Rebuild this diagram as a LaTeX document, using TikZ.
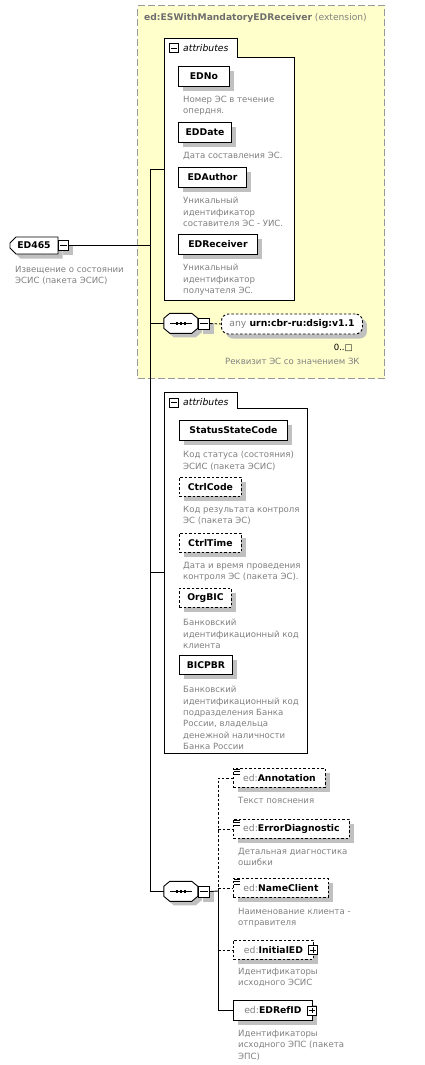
\documentclass[tikz,border=0pt]{standalone}
\usepackage{fontspec}
\setmainfont{DejaVu Sans}
\usetikzlibrary{shapes.misc,shadows,calc}
\definecolor{extfill}{HTML}{FFFFCC}
\definecolor{extline}{HTML}{999999}
\definecolor{desccol}{HTML}{808080}
\definecolor{shadecol}{HTML}{C0C0C0}
\definecolor{titlecol}{HTML}{6E6E6E}
\newcommand{\pfx}[1]{{\mdseries\color{desccol}#1}}
\tikzset{
  shd/.style={drop shadow={shadow xshift=4.5bp, shadow yshift=-4.5bp, fill=shadecol, opacity=1}},
  elem/.style={draw, fill=white, line width=0.9bp, shd, anchor=north west, minimum height=19bp, inner sep=0pt, font=\fontsize{9.3}{11}\selectfont\bfseries},
  optelem/.style={elem, dash pattern=on 2.5bp off 2bp},
  desc/.style={anchor=north west, align=left, text=desccol, inner sep=0pt, font=\fontsize{8.6}{11.4}\selectfont},
  attbox/.style={draw, fill=white, line width=0.9bp},
  attlabel/.style={anchor=west, inner sep=0pt, font=\fontsize{9.3}{11}\selectfont\itshape},
  pmbox/.style={draw, fill=white, line width=0.9bp, minimum size=10bp, inner sep=0pt},
  seqbox/.style={minimum width=34bp, minimum height=20bp, inner sep=0pt},
  octline/.style={draw, fill=white, line width=0.9bp},
  conn/.style={line width=0.9bp},
  optconn/.style={conn, dash pattern=on 2.5bp off 2bp},
}
\begin{document}
\begin{tikzpicture}[x=1bp,y=-1bp]
\useasboundingbox (0,0) rectangle (424,1065);
% extension
\node[draw=extline, fill=extfill, dash pattern=on 7bp off 3bp, line width=1bp, anchor=north west, minimum width=247bp, minimum height=373bp, inner sep=0pt] (ext) at (137,5) {};
\node[anchor=west, inner sep=0pt, font=\fontsize{9.2}{11}\selectfont, text=titlecol] (exttitle) at (144,18.5) {\textbf{ed:ESWithMandatoryEDReceiver} {\color{desccol}(extension)}};

% root
\node[chamfered rectangle, chamfered rectangle corners={north west,south west}, chamfered rectangle xsep=3bp, chamfered rectangle ysep=3bp, draw, fill=white, line width=0.9bp, shd, minimum width=48bp, minimum height=17bp, inner sep=0pt, font=\fontsize{9.3}{11}\selectfont\bfseries] (ed465) at (34,245.5) {ED465};
\node[pmbox, anchor=west, shd] (ed465m) at (ed465.east) {};
\node[desc] (ed465d) at (15,266) {Извещение о состоянии\\ЭСИС (пакета ЭСИС)};

% attributes 1
\node[anchor=north west, minimum width=130bp, minimum height=262bp, inner sep=0pt] (att1) at (164,38) {};
\draw[attbox] (att1.north west) -- ++(73,0) -- ++(0,19) -| (att1.south east) -| (att1.north west) -- cycle;
\node[pmbox, minimum size=9bp] (att1m) at (174,48) {};
\node[attlabel] (att1l) at (183,48) {attributes};

\node[elem, minimum width=51bp, minimum height=20bp] (edno) at (178,66) {EDNo};
\node[desc] (ednod) at (183,96) {Номер ЭС в течение\\опердня.};
\node[elem, minimum width=53bp, minimum height=20bp] (eddate) at (178,122) {EDDate};
\node[desc] (eddated) at (183,152) {Дата составления ЭС.};
\node[elem, minimum width=68bp, minimum height=20bp] (edauth) at (178,167) {EDAuthor};
\node[desc] (edauthd) at (183,197) {Уникальный\\идентификатор\\составителя ЭС - УИС.};
\node[elem, minimum width=79bp, minimum height=20bp] (edrec) at (178,234) {EDReceiver};
\node[desc] (edrecd) at (183,264) {Уникальный\\идентификатор\\получателя ЭС.};

% sequence 1 + any
\node[seqbox] (seq1) at (181,323.5) {};
\begin{scope}[shift={(seq1.north west)}]
  \fill[shadecol] (10,4) -- (32,4) -- (38,9) -- (38,19) -- (32,24) -- (10,24) -- (4,19) -- (4,9) -- cycle;
  \draw[octline] (6,0) -- (28,0) -- (34,5) -- (34,15) -- (28,20) -- (6,20) -- (0,15) -- (0,5) -- cycle;
\end{scope}
\node[pmbox, minimum size=11bp, anchor=west, shd] (seq1m) at (seq1.east) {};
\node[optelem, rounded corners=7bp, minimum width=141bp, minimum height=20bp, anchor=west] (any) at (221,324) {\pfx{any} urn:cbr-ru:dsig:v1.1\hspace{6bp}};
\node[anchor=base east, inner sep=0pt, font=\fontsize{8.6}{10}\selectfont] (anyocc) at (353,350) {0..□};
\node[desc] (anyd) at (225,358) {Реквизит ЭС со значением ЗК};

% attributes 2
\node[anchor=north west, minimum width=143bp, minimum height=361bp, inner sep=0pt] (att2) at (164,392) {};
\draw[attbox] (att2.north west) -- ++(73,0) -- ++(0,16.5) -| (att2.south east) -| (att2.north west) -- cycle;
\node[pmbox, minimum size=9bp] (att2m) at (174,402.5) {};
\node[attlabel] (att2l) at (183,402) {attributes};

\node[elem, minimum width=108bp, minimum height=20bp] (ssc) at (179,420) {StatusStateCode};
\node[desc] (sscd) at (183,451) {Код статуса (состояния)\\ЭСИС (пакета ЭСИС)};
\node[optelem, minimum width=62bp, minimum height=19bp] (ctrlc) at (179,477) {CtrlCode};
\node[desc] (ctrlcd) at (183,506) {Код результата контроля\\ЭС (пакета ЭС)};
\node[optelem, minimum width=62bp, minimum height=19bp] (ctrlt) at (179,533) {CtrlTime};
\node[desc] (ctrltd) at (183,562) {Дата и время проведения\\контроля ЭС (пакета ЭС).};
\node[optelem, minimum width=52bp, minimum height=19bp] (orgbic) at (179,588) {OrgBIC};
\node[desc] (orgbicd) at (183,619) {Банковский\\идентификационный код\\клиента};
\node[elem, minimum width=53bp, minimum height=19bp] (bicpbr) at (179,655) {BICPBR};
\node[desc] (bicpbrd) at (183,686) {Банковский\\идентификационный код\\подразделения Банка\\России, владельца\\денежной наличности\\Банка России};

% sequence 2
\node[seqbox] (seq2) at (181,891.5) {};
\begin{scope}[shift={(seq2.north west)}]
  \fill[shadecol] (10,4) -- (32,4) -- (38,9) -- (38,19) -- (32,24) -- (10,24) -- (4,19) -- (4,9) -- cycle;
  \draw[octline] (6,0) -- (28,0) -- (34,5) -- (34,15) -- (28,20) -- (6,20) -- (0,15) -- (0,5) -- cycle;
\end{scope}
\node[pmbox, minimum size=11bp, anchor=west, shd] (seq2m) at (seq2.east) {};
\coordinate (br) at (218,891);
\coordinate (trunk) at (150,600);

\node[optelem, minimum width=92bp] (annot) at (233,768) {\pfx{ed:}Annotation};
\node[desc] (annotd) at (238,797) {Текст пояснения};
\node[optelem, minimum width=116bp] (errd) at (233,819) {\pfx{ed:}ErrorDiagnostic};
\node[desc] (errdd) at (238,848) {Детальная диагностика\\ошибки};
\node[optelem, minimum width=95bp] (namec) at (233,878) {\pfx{ed:}NameClient};
\node[desc] (namecd) at (238,908) {Наименование клиента -\\отправителя};
\node[optelem, minimum width=80bp] (inited) at (233,940) {\pfx{ed:}InitialED\hspace{8bp}};
\node[pmbox, minimum size=9bp] (initedp) at ($(inited.east)+(-0.5,0)$) {};
\node[desc] (initedd) at (238,968) {Идентификаторы\\исходного ЭСИС};
\node[elem, minimum width=79bp, minimum height=20bp] (edref) at (233,1000) {\pfx{ed:}EDRefID\hspace{8bp}};
\node[pmbox, minimum size=9bp] (edrefp) at ($(edref.east)+(-0.5,0)$) {};
\node[desc] (edrefd) at (238,1030) {Идентификаторы\\исходного ЭПС (пакета\\ЭПС)};

% icons
\foreach \n in {ed465m,att1m,att2m,seq1m,seq2m,initedp,edrefp}
  \draw[line width=0.9bp] ($(\n.west)+(2,0)$) -- ($(\n.east)+(-2,0)$);
\foreach \n in {initedp,edrefp}
  \draw[line width=0.9bp] ($(\n.north)+(0,2)$) -- ($(\n.south)+(0,-2)$);
\foreach \n in {seq1,seq2}{
  \draw[line width=0.8bp] ($(\n.center)+(-11,0)$) -- ($(\n.center)+(11,0)$);
  \foreach \dx in {-4,0,4}
    \fill ($(\n.center)+(\dx-1.3,-1.3)$) rectangle ++(2.6,2.6);
}
\foreach \n in {annot,errd,namec}{
  \fill[white] ($(\n.north west)+(0.6,0.6)$) rectangle ++(7,6.5);
  \foreach \dy in {1.5,3.8,6.1}
    \draw[line width=0.7bp] ($(\n.north west)+(1.3,\dy)$) -- ++(6,0);
}

% connectors
\draw[conn] (ed465m.east) -- (ed465m.east -| trunk);
\draw[conn] (att1.west) -- (att1.west -| trunk) -- (seq2.west -| trunk) -- (seq2.west);
\draw[conn] (seq1.west -| trunk) -- (seq1.west);
\draw[conn] (att2.west -| trunk) -- (att2.west);
\draw[optconn] (seq1m.east) -- (any.west);
\draw[conn] (seq2m.east) -- (br);
\draw[optconn] (br) |- (annot.west);
\draw[optconn] (br |- errd.west) -- (errd.west);
\draw[optconn] (br |- namec.west) -- (namec.west);
\draw[optconn] (br |- inited.west) -- (inited.west);
\draw[conn] (br) |- (edref.west);
\end{tikzpicture}
\end{document}
